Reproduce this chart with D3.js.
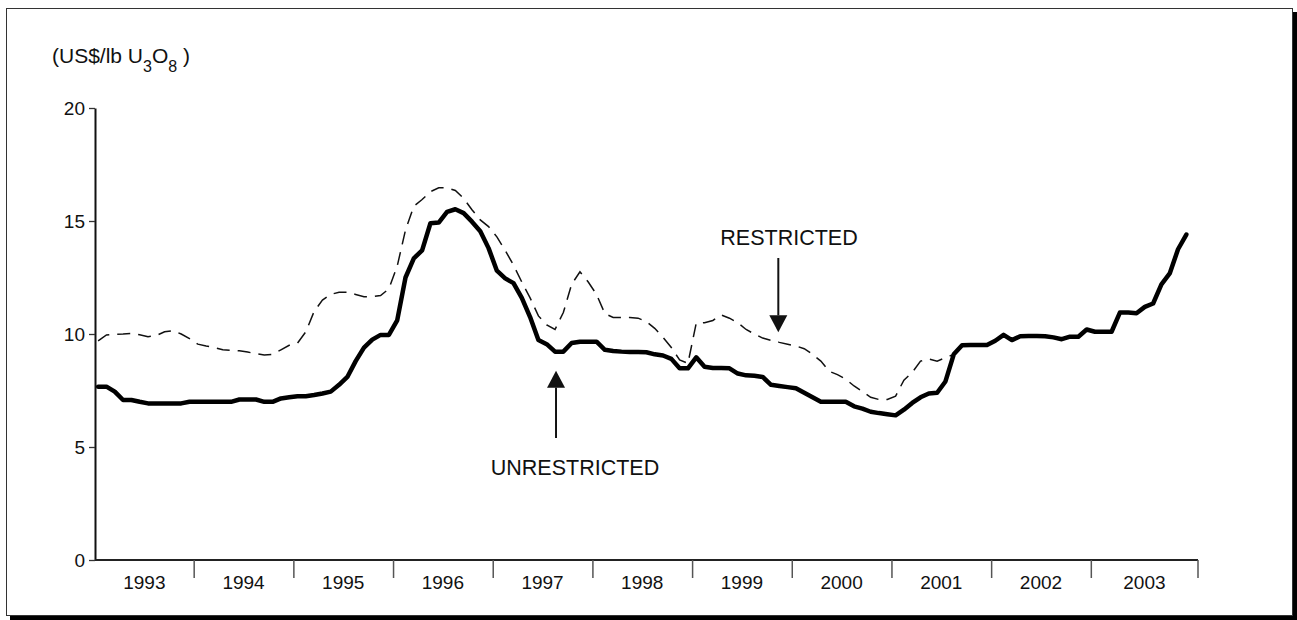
<!DOCTYPE html>
<html>
<head>
<meta charset="utf-8">
<script src="https://cdn.jsdelivr.net/npm/d3@7"></script>
<style>
  html, body { margin: 0; padding: 0; background: #fff; }
  svg { display: block; }
  text { font-family: "Liberation Sans", Arial, Helvetica, sans-serif; fill: #111; }
</style>
</head>
<body>
<svg id="chart" width="1297" height="620"></svg>
<script>
// ---- data (monthly, Jan 1993 onwards) ----
const startYear = 1993;
const yearLabels = ["1993","1994","1995","1996","1997","1998","1999","2000","2001","2002","2003"];
const yTickValues = [0, 5, 10, 15, 20];

const unrestricted = [
  7.67, 7.67, 7.45, 7.08, 7.08, 7.00, 6.93, 6.93, 6.93, 6.93, 6.93, 7.00,
  7.00, 7.00, 7.00, 7.00, 7.00, 7.10, 7.10, 7.10, 7.00, 7.00, 7.15, 7.20,
  7.25, 7.25, 7.30, 7.37, 7.45, 7.75, 8.10, 8.80, 9.40, 9.75, 9.96, 9.96,
  10.60, 12.50, 13.35, 13.70, 14.90, 14.93, 15.40, 15.52, 15.35, 14.97, 14.55, 13.80,
  12.80, 12.46, 12.25, 11.60, 10.75, 9.73, 9.55, 9.22, 9.22, 9.60, 9.66, 9.66,
  9.66, 9.30, 9.25, 9.22, 9.20, 9.20, 9.19, 9.10, 9.05, 8.90, 8.48, 8.48,
  8.97, 8.55, 8.50, 8.50, 8.48, 8.25, 8.17, 8.15, 8.10, 7.75, 7.70, 7.65,
  7.60, 7.40, 7.20, 7.00, 7.00, 7.00, 7.00, 6.80, 6.70, 6.56, 6.50, 6.45,
  6.40, 6.65, 6.95, 7.20, 7.37, 7.40, 7.90, 9.10, 9.50, 9.51, 9.51, 9.51,
  9.70, 9.96, 9.73, 9.90, 9.91, 9.91, 9.90, 9.85, 9.77, 9.88, 9.88, 10.20,
  10.10, 10.10, 10.10, 10.95, 10.95, 10.92, 11.20, 11.35, 12.20, 12.68, 13.75, 14.40
];

const restricted = [
  9.70, 9.96, 9.99, 10.00, 10.03, 9.97, 9.88, 9.93, 10.10, 10.15, 10.00, 9.80,
  9.55, 9.47, 9.40, 9.30, 9.28, 9.26, 9.20, 9.13, 9.07, 9.10, 9.30, 9.50,
  9.60, 10.10, 11.00, 11.50, 11.75, 11.85, 11.85, 11.75, 11.65, 11.65, 11.70, 12.00,
  13.00, 14.60, 15.65, 15.95, 16.30, 16.47, 16.47, 16.35, 16.00, 15.50, 15.05, 14.75,
  14.30, 13.70, 13.05, 12.30, 11.60, 10.80, 10.40, 10.20, 10.95, 12.20, 12.75, 12.30,
  11.75, 10.90, 10.73, 10.73, 10.73, 10.70, 10.55, 10.25, 9.85, 9.40, 8.85, 8.70,
  10.48, 10.50, 10.60, 10.84, 10.70, 10.50, 10.20, 10.00, 9.82, 9.72, 9.63, 9.55,
  9.47, 9.35, 9.10, 8.80, 8.35, 8.20, 8.00, 7.70, 7.45, 7.20, 7.10, 7.10,
  7.25, 7.96, 8.30, 8.80, 8.90, 8.80, 8.95, 9.10
];

const unitLabel = { open: "(US$/lb U", sub1: "3", mid: "O", sub2: "8", close: " )" };
const annotations = [
  { text: "RESTRICTED", series: "restricted", month: 82 },
  { text: "UNRESTRICTED", series: "unrestricted", month: 55 }
];

// ---- layout ----
const svg = d3.select("#chart");

// frame with drop shadow
svg.append("rect").attr("x", 10).attr("y", 12).attr("width", 1287).attr("height", 608).attr("fill", "#000");
svg.append("rect").attr("x", 6.5).attr("y", 8.5).attr("width", 1286).attr("height", 607)
  .attr("fill", "#fff").attr("stroke", "#333").attr("stroke-width", 1);

const x = d3.scaleLinear().domain([1993, 2004]).range([94, 1190.5]);
const y = d3.scaleLinear().domain([0, 20]).range([560, 108]);
const tOf = i => startYear + (i + 0.5) / 12;
const axisEnd = 1198;

// unit label
const ul = svg.append("text").attr("x", 52).attr("y", 63).style("font-size", "21px");
ul.append("tspan").text(unitLabel.open);
ul.append("tspan").attr("dy", 9).style("font-size", "16px").text(unitLabel.sub1);
ul.append("tspan").attr("dy", -9).text(unitLabel.mid);
ul.append("tspan").attr("dy", 9).style("font-size", "16px").text(unitLabel.sub2);
ul.append("tspan").attr("dy", -9).text(unitLabel.close);

// y axis
const yAxis = svg.append("g").attr("transform", "translate(95,0)")
  .call(d3.axisLeft(y).tickValues(yTickValues).tickSize(6).tickPadding(4).tickSizeOuter(0));
yAxis.select(".domain").attr("stroke", "#111").attr("stroke-width", 2);
yAxis.selectAll(".tick line").attr("stroke", "#333").attr("stroke-width", 1.3);
yAxis.selectAll(".tick text").style("font-size", "19px").attr("fill", "#111")
  .style("font-family", "'Liberation Sans', Arial, sans-serif");

// x axis
const xAxis = svg.append("g").attr("transform", "translate(0,560)")
  .call(d3.axisBottom(x).tickValues(d3.range(1994, 2004)).tickSize(18).tickFormat("").tickSizeOuter(0));
xAxis.select(".domain").attr("stroke", "#222").attr("stroke-width", 2).attr("d", `M95,0H${axisEnd}`);
xAxis.selectAll(".tick line").attr("stroke", "#555").attr("stroke-width", 1.5);
xAxis.append("line").attr("x1", axisEnd).attr("x2", axisEnd).attr("y1", 0).attr("y2", 18)
  .attr("stroke", "#555").attr("stroke-width", 1.5);

const yearBounds = d3.range(1993, 2005).map(v => v === 1993 ? 95 : (v === 2004 ? axisEnd : x(v)));
svg.append("g").selectAll("text").data(yearLabels).join("text")
  .attr("x", (d, i) => (yearBounds[i] + yearBounds[i + 1]) / 2)
  .attr("y", 589)
  .attr("text-anchor", "middle")
  .style("font-size", "19px")
  .text(d => d);

// lines
const line = d3.line().x((d, i) => x(tOf(i))).y(d => y(d)).curve(d3.curveLinear);

svg.append("path").datum(restricted).attr("d", line)
  .attr("fill", "none").attr("stroke", "#111").attr("stroke-width", 1.5)
  .attr("stroke-dasharray", "13,8");

svg.append("path").datum(unrestricted).attr("d", line)
  .attr("fill", "none").attr("stroke", "#000").attr("stroke-width", 4.5)
  .attr("stroke-linejoin", "round").attr("stroke-linecap", "round");

// annotations
function arrow(g, xPos, yStart, yTip) {
  const dir = yTip > yStart ? 1 : -1;
  const headLen = 17, headHalf = 9;
  const yBase = yTip - dir * headLen;
  g.append("line").attr("x1", xPos).attr("x2", xPos).attr("y1", yStart).attr("y2", yBase)
    .attr("stroke", "#111").attr("stroke-width", 2);
  g.append("path")
    .attr("d", `M${xPos - headHalf},${yBase}L${xPos + headHalf},${yBase}L${xPos},${yTip}Z`)
    .attr("fill", "#111");
}
const ann = svg.append("g");
{
  const a = annotations[0];
  const ax = x(tOf(a.month)) - 1;
  ann.append("text").attr("x", 789).attr("y", 245).attr("text-anchor", "middle")
    .style("font-size", "21.5px").text(a.text);
  arrow(ann, ax, 258, y(restricted[a.month]) - 10);
}
{
  const a = annotations[1];
  const ax = x(tOf(a.month)) + 1;
  ann.append("text").attr("x", 575).attr("y", 475).attr("text-anchor", "middle")
    .style("font-size", "21.5px").text(a.text);
  arrow(ann, ax, 438, y(unrestricted[a.month]) + 19);
}
</script>
</body>
</html>
